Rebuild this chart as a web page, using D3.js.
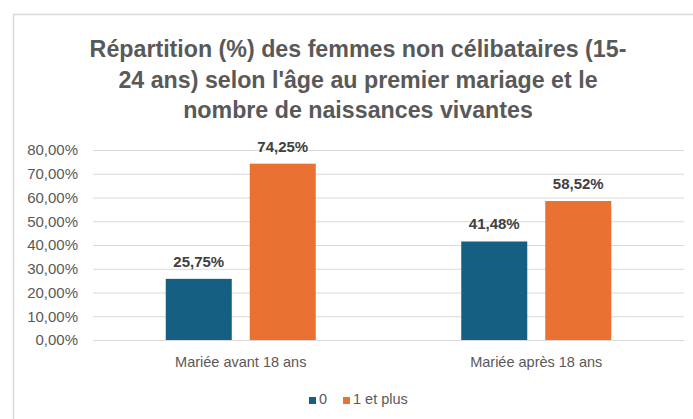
<!DOCTYPE html>
<html lang="fr">
<head>
<meta charset="UTF-8">
<title>Répartition des femmes non célibataires</title>
<script src="https://d3js.org/d3.v7.min.js"></script>
<style>
  body { margin: 0; background: #fff; }
  svg { display: block; }
</style>
</head>
<body>
<svg id="chart"></svg>
<script>
// data
const categories = ["Mariée avant 18 ans", "Mariée après 18 ans"];
const seriesNames = ["0", "1 et plus"];
const seriesColors = ["#156082", "#E97132"];
const valuesZero = [25.75, 41.48];
const valuesOneplus = [74.25, 58.52];
const yTicks = [0, 10, 20, 30, 40, 50, 60, 70, 80];
const titleLines = [
    "Répartition (%) des femmes non célibataires (15-",
    "24 ans) selon l'âge au premier mariage et le",
    "nombre de naissances vivantes"
];

const width = 693, height = 419;
const margin = {left: 93, right: 9, top: 150, bottom: 79};

const svg = d3.select("#chart")
    .attr("width", width)
    .attr("height", height);

// chart frame
svg.append("rect")
    .attr("x", 13.5).attr("y", 14.5)
    .attr("width", 720).attr("height", 430)
    .attr("fill", "#fff")
    .attr("stroke", "#d9d9d9")
    .attr("stroke-width", 1.5);

// title
const titleFont = "'Liberation Sans Narrow', 'Arial Narrow', 'Liberation Sans', sans-serif";
const title = svg.append("g");
const firstLine = title.append("text")
    .attr("x", 358).attr("y", 57)
    .attr("text-anchor", "middle")
    .style("font-family", titleFont)
    .style("font-weight", "bold")
    .style("font-size", "26px")
    .attr("fill", "#595959")
    .text(titleLines[0]);
// fit the first line to the width seen in the picture
let fs = 26 * 537 / firstLine.node().getComputedTextLength();
firstLine.style("font-size", fs + "px");
titleLines.slice(1).forEach((t, i) => {
    title.append("text")
        .attr("x", 358).attr("y", 57 + (i + 1) * 30.5)
        .attr("text-anchor", "middle")
        .style("font-family", titleFont)
        .style("font-weight", "bold")
        .style("font-size", fs + "px")
        .attr("fill", "#595959")
        .text(t);
});

// scales
const x0 = d3.scaleBand()
    .domain(categories)
    .range([margin.left, width - margin.right]);
const x1 = d3.scaleBand()
    .domain(seriesNames)
    .range([0, x0.bandwidth()])
    .paddingInner(0.214)
    .paddingOuter(0.866);
const y = d3.scaleLinear()
    .domain([0, 80])
    .range([height - margin.bottom, margin.top]);

// gridlines + y labels
const yAxis = d3.axisLeft(y)
    .tickValues(yTicks)
    .tickSize(-(width - margin.left - margin.right))
    .tickPadding(15)
    .tickFormat(d => d3.format(".2f")(d).replace(".", ",") + "%");
const gy = svg.append("g")
    .attr("transform", "translate(" + margin.left + ",0)")
    .call(yAxis);
gy.select(".domain").remove();
gy.selectAll("line").attr("stroke", "#d9d9d9").attr("stroke-width", 1.2);
gy.selectAll("text")
    .attr("fill", "#595959")
    .style("font-family", "'Liberation Sans', Arial, sans-serif")
    .style("font-size", "15px");

// bars
const rows = categories.map((c, i) => ({cat: c, vals: [valuesZero[i], valuesOneplus[i]]}));
const groups = svg.selectAll(".grp")
    .data(rows)
    .join("g")
    .attr("class", "grp")
    .attr("transform", d => "translate(" + x0(d.cat) + ",0)");

groups.selectAll("rect")
    .data(d => d.vals.map((v, j) => ({name: seriesNames[j], v: v, c: seriesColors[j]})))
    .join("rect")
    .attr("x", d => x1(d.name))
    .attr("width", x1.bandwidth())
    .attr("y", d => y(d.v))
    .attr("height", d => y(0) - y(d.v))
    .attr("fill", d => d.c);

groups.selectAll(".lbl")
    .data(d => d.vals.map((v, j) => ({name: seriesNames[j], v: v})))
    .join("text")
    .attr("class", "lbl")
    .attr("x", d => x1(d.name) + x1.bandwidth() / 2)
    .attr("y", d => y(d.v) - 12)
    .attr("text-anchor", "middle")
    .attr("fill", "#404040")
    .style("font-family", "'Liberation Sans', Arial, sans-serif")
    .style("font-weight", "bold")
    .style("font-size", "15px")
    .text(d => d3.format(".2f")(d.v).replace(".", ",") + "%");

// category labels
svg.append("g")
    .selectAll("text")
    .data(categories)
    .join("text")
    .attr("x", d => x0(d) + x0.bandwidth() / 2)
    .attr("y", 367)
    .attr("text-anchor", "middle")
    .attr("fill", "#595959")
    .style("font-family", "'Liberation Sans', Arial, sans-serif")
    .style("font-size", "14.5px")
    .text(d => d);

// legend
const legend = svg.append("g");
const legendX = [309, 343];
seriesNames.forEach((s, i) => {
    legend.append("rect")
        .attr("x", legendX[i]).attr("y", 397)
        .attr("width", 7).attr("height", 7)
        .attr("fill", seriesColors[i]);
    legend.append("text")
        .attr("x", legendX[i] + 10).attr("y", 404)
        .attr("fill", "#595959")
        .style("font-family", "'Liberation Sans', Arial, sans-serif")
        .style("font-size", "14.5px")
        .text(s);
});
</script>
</body>
</html>
